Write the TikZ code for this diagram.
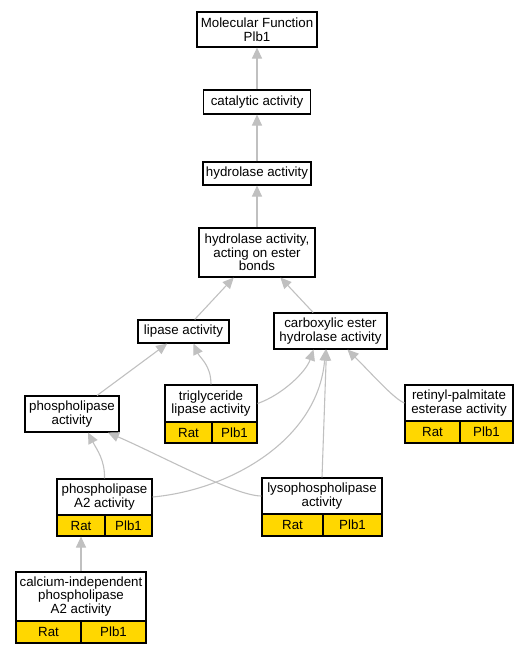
\documentclass[tikz,border=0pt]{standalone}
\usepackage{fontspec}
\setmainfont{Liberation Sans}
\usetikzlibrary{arrows.meta,calc}
\definecolor{gold}{HTML}{FFD700}
\definecolor{edgegray}{HTML}{C0C0C0}
\begin{document}
\begin{tikzpicture}[x=1pt,y=-1pt,
 box/.style={draw=black,line width=1.1pt,fill=white,inner sep=0pt,align=center,font=\fontsize{13.3}{13.5}\selectfont},
 cell/.style={box,fill=gold},
 edge/.style={draw=edgegray,line width=1.1pt,-{Triangle[length=11pt,width=10pt]}}]
\useasboundingbox (0,0) rectangle (528,653);

\node[box,minimum width=120pt,minimum height=35pt] (mf) at (257,29.5) {Molecular Function\\Plb1};
\node[box,minimum width=107pt,minimum height=24pt] (cat) at (257,102) {catalytic activity};
\node[box,minimum width=108pt,minimum height=23pt] (hyd) at (257,173.5) {hydrolase activity};
\node[box,minimum width=116pt,minimum height=49pt] (est) at (257,252.5) {hydrolase activity,\\acting on ester\\bonds};
\node[box,minimum width=91pt,minimum height=23pt] (lip) at (183.5,331.5) {lipase activity};
\node[box,minimum width=113pt,minimum height=36pt] (carb) at (330.5,331) {carboxylic ester\\hydrolase activity};

\node[box,minimum width=92pt,minimum height=37pt] (trig) at (211,403.5) {triglyceride\\lipase activity};
\node[cell,minimum width=47pt,minimum height=21pt] (trigR) at (188.5,432.5) {Rat};
\node[cell,minimum width=45pt,minimum height=21pt] (trigP) at (234.5,432.5) {Plb1};

\node[box,minimum width=94pt,minimum height=36pt] (phos) at (72,414) {phospholipase\\activity};

\node[box,minimum width=95pt,minimum height=36pt] (pla2) at (104.5,497) {phospholipase\\A2 activity};
\node[cell,minimum width=48pt,minimum height=21pt] (pla2R) at (81,525.5) {Rat};
\node[cell,minimum width=47pt,minimum height=21pt] (pla2P) at (128.5,525.5) {Plb1};

\node[box,minimum width=130pt,minimum height=49pt] (calc) at (81,596.5) {calcium-independent\\phospholipase\\A2 activity};
\node[cell,minimum width=65pt,minimum height=22pt] (calcR) at (48.5,632) {Rat};
\node[cell,minimum width=65pt,minimum height=22pt] (calcP) at (113.5,632) {Plb1};

\node[box,minimum width=108pt,minimum height=36pt] (ret) at (459,403) {retinyl-palmitate\\esterase activity};
\node[cell,minimum width=55pt,minimum height=22pt] (retR) at (432.5,432) {Rat};
\node[cell,minimum width=53pt,minimum height=22pt] (retP) at (486.5,432) {Plb1};

\node[box,minimum width=120pt,minimum height=36pt] (lyso) at (322,496) {lysophospholipase\\activity};
\node[cell,minimum width=61pt,minimum height=22pt] (lysoR) at (292.5,525) {Rat};
\node[cell,minimum width=59pt,minimum height=22pt] (lysoP) at (352.5,525) {Plb1};

\draw[edge] (cat) -- (mf);
\draw[edge] (hyd) -- (cat);
\draw[edge] (est) -- (hyd);
\draw[edge] (lip) -- (est);
\draw[edge] (carb) -- (est);
\draw[edge] (phos) -- (lip);
\draw[edge] (trig.north) .. controls (211,365) and (200,358) .. ($(lip.south)+(10,0)$);
\draw[edge] (trig.east) .. controls (282,395) and (306,372) .. ($(carb.south)+(-17,0)$);
\draw[edge] (ret.west) .. controls (394,399) and (372,374) .. ($(carb.south)+(17,0)$);
\draw[edge] (lyso.north) -- ($(carb.south)+(-4,0)$);
\draw[edge] (pla2.east) .. controls (230,490) and (318,440) .. ($(carb.south)+(-5,0)$);
\draw[edge] (lyso.west) .. controls (235,496) and (160,455) .. ($(phos.south)+(36,0)$);
\draw[edge] (pla2.north) .. controls (105,460) and (97,450) .. ($(phos.south)+(16,0)$);
\draw[edge] (calc.north) -- (pla2R.south);
\end{tikzpicture}
\end{document}
